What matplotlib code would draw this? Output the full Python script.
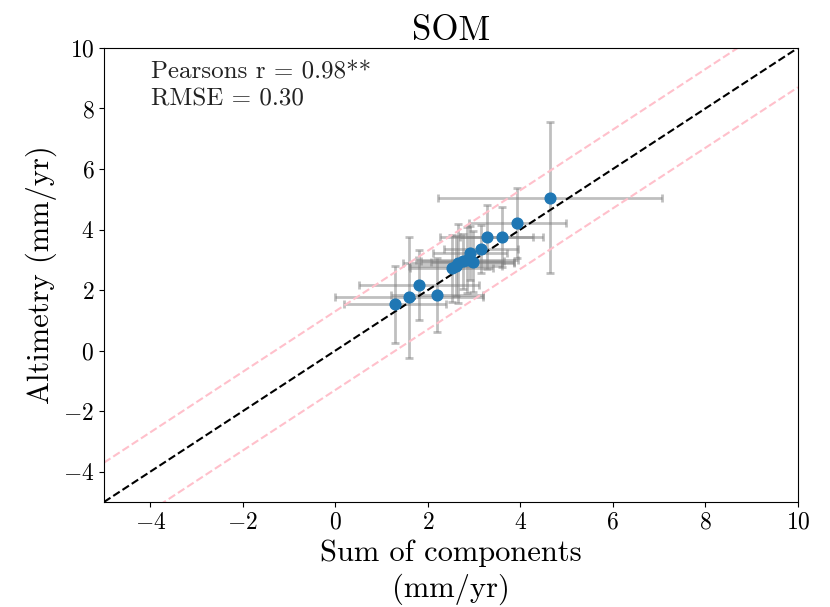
import numpy as np
import matplotlib
matplotlib.use('Agg')
import matplotlib.pyplot as plt

plt.rcParams['font.family'] = 'cmr10'
plt.rcParams['mathtext.fontset'] = 'cm'
plt.rcParams['axes.formatter.use_mathtext'] = True

# Sum of components (x) vs altimetry (y), mm/yr
comp = [1.29, 1.59, 1.81, 2.20, 2.52, 2.60, 2.66, 2.75, 2.84, 2.91, 2.97, 3.16, 3.27, 3.60, 3.93, 4.64]
alti = [1.53, 1.76, 2.16, 1.84, 2.72, 2.80, 2.89, 2.95, 3.00, 3.22, 2.94, 3.36, 3.75, 3.75, 4.21, 5.05]
comp_err = [1.1, 1.6, 1.3, 1.0, 0.9, 1.0, 1.2, 0.9, 1.1, 0.8, 0.9, 0.8, 1.0, 0.9, 1.05, 2.43]
alti_err = [1.27, 2.0, 1.15, 1.23, 1.1, 1.0, 1.3, 0.9, 1.1, 0.9, 1.0, 0.8, 1.05, 1.0, 1.15, 2.5]
offset = 1.3
lims = [-5, 10]

fig = plt.figure(figsize=(8.3, 6.07), dpi=100)
ax = fig.add_axes([0.1253, 0.173, 0.836, 0.748])

ax.errorbar(comp, alti, xerr=comp_err, yerr=alti_err, fmt='none',
            ecolor='gray', alpha=0.5, elinewidth=2, capsize=3, capthick=2)
ax.scatter(comp, alti, color='#1f77b4', s=60, zorder=3)

line = np.array(lims)
ax.plot(line, line, '--', color='k', lw=1.5, zorder=2)
ax.plot(line, line + offset, '--', color='pink', lw=1.5)
ax.plot(line, line - offset, '--', color='pink', lw=1.5)

ax.set_xlim(lims)
ax.set_ylim(lims)
ax.set_xticks([-4, -2, 0, 2, 4, 6, 8, 10])
ax.set_yticks([-4, -2, 0, 2, 4, 6, 8, 10])
ax.tick_params(labelsize=17)

ax.text(0.068, 0.97, 'Pearsons r = 0.98**\nRMSE = 0.30', transform=ax.transAxes,
        fontsize=18, va='top', linespacing=1.3, color='#222222')

ax.set_title('SOM', fontsize=25)
ax.set_xlabel('Sum of components\n(mm/yr)', fontsize=22, linespacing=1.3)
ax.set_ylabel('Altimetry (mm/yr)', fontsize=22)

fig.savefig('out.png', dpi=100)
